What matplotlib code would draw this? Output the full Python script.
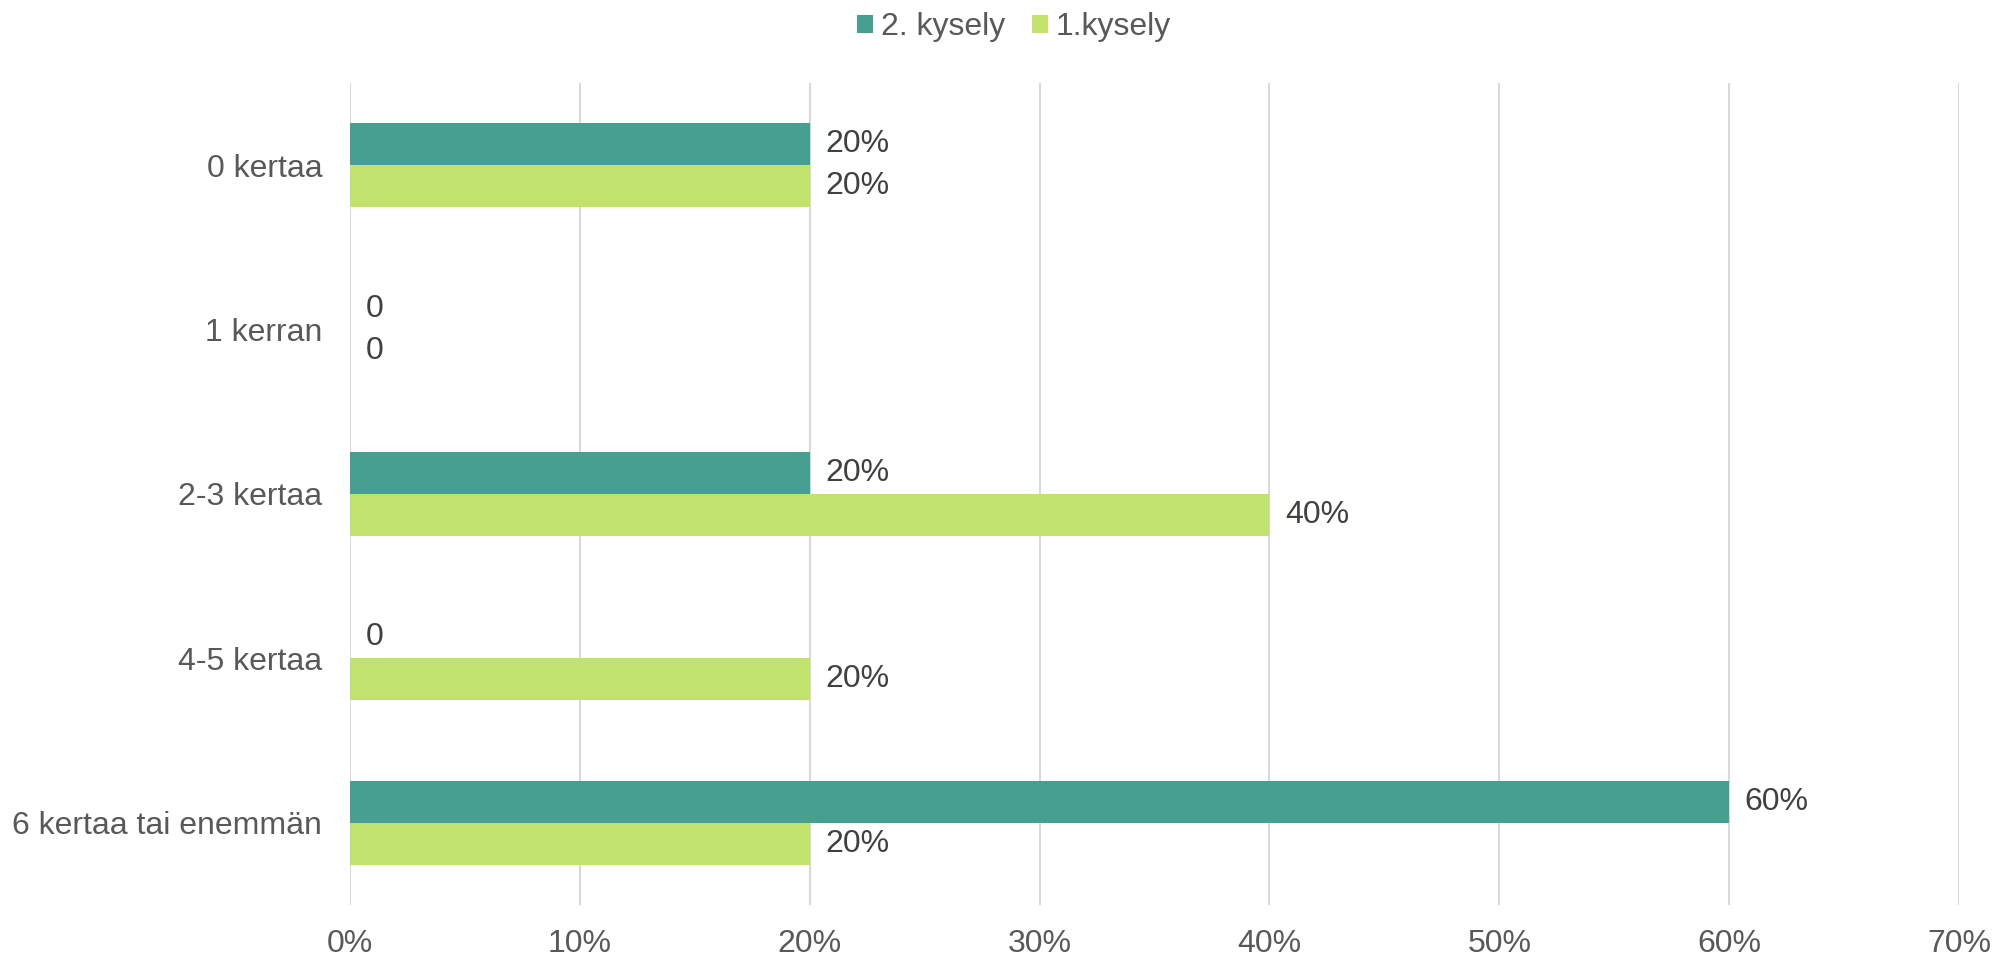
import matplotlib
matplotlib.use("Agg")
import matplotlib.pyplot as plt
import numpy as np
from matplotlib.ticker import FuncFormatter

plt.rcParams['font.family'] = ['Liberation Sans', 'DejaVu Sans']

categories = ["0 kertaa", "1 kerran", "2-3 kertaa", "4-5 kertaa", "6 kertaa tai enemmän"]
survey2 = [0.20, 0.0, 0.20, 0.0, 0.60]   # 2. kysely
survey1 = [0.20, 0.0, 0.40, 0.20, 0.20]  # 1.kysely
series_names = ["2. kysely", "1.kysely"]
x_ticks = [0, 0.1, 0.2, 0.3, 0.4, 0.5, 0.6, 0.7]

teal = "#46A08F"
green = "#C2E26E"
label_col = "#595959"
value_col = "#404040"
fs = 23

fig = plt.figure(figsize=(19.97, 9.59), dpi=100)
ax = fig.add_axes([0.1753, 0.0564, 0.981 - 0.1753, 0.9135 - 0.0564])

y = np.arange(len(categories))
h = 0.255
b2 = ax.barh(y - h / 2, survey2, height=h, color=teal, label=series_names[0], zorder=3)
b1 = ax.barh(y + h / 2, survey1, height=h, color=green, label=series_names[1], zorder=3)

def fmt(v):
    return "0" if v == 0 else f"{v*100:.0f}%"

for bars, vals in ((b2, survey2), (b1, survey1)):
    ax.bar_label(bars, labels=[fmt(v) for v in vals], padding=11,
                 fontsize=fs, color=value_col)

ax.set_ylim(len(categories) - 0.5, -0.5)
ax.set_xlim(0, 0.7)
ax.set_yticks(y)
ax.set_yticklabels(categories)
ax.set_xticks(x_ticks)
ax.xaxis.set_major_formatter(FuncFormatter(lambda v, p: f"{v*100:.0f}%"))
ax.tick_params(axis='both', length=0, labelsize=fs, labelcolor=label_col)
ax.tick_params(axis='y', pad=20)
ax.tick_params(axis='x', pad=17)
ax.grid(axis='x', color="#D9D9D9", linewidth=1.5, zorder=0)
for s in ax.spines.values():
    s.set_visible(False)

fig.legend(handles=[b2, b1], labels=series_names, loc='center',
           bbox_to_anchor=(1014 / 1997, 1 - 27 / 959), ncol=2, frameon=False,
           fontsize=fs, labelcolor=label_col, handlelength=0.5, handleheight=0.5,
           handletextpad=0.25, columnspacing=0.85)

fig.savefig("out.png", dpi=100, facecolor="white")
